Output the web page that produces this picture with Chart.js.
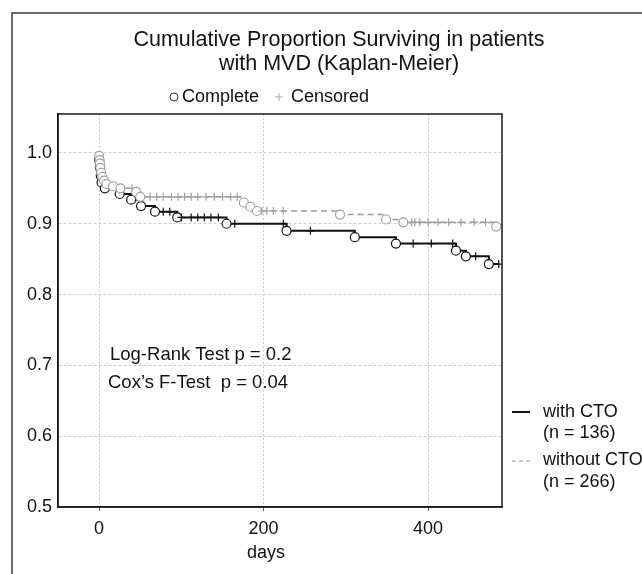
<!DOCTYPE html>
<html lang="en">
<head>
<meta charset="UTF-8">
<title>Cumulative Proportion Surviving in patients with MVD</title>
<script src="https://cdn.jsdelivr.net/npm/chart.js"></script>
<style>
    html, body { margin: 0; padding: 0; background: #fff; }
    .chart-container { position: relative; width: 642px; height: 574px; }
</style>
</head>
<body>
<div class="chart-container">
    <canvas id="kmChart" width="642" height="574"></canvas>
</div>
<script>
// with CTO (n = 136): event times / survival after each event, censored times
const ctoEventDays  = [0, 1, 2, 3, 7, 25, 39, 51, 68, 95, 155, 228, 311, 361, 434, 446, 474];
const ctoEventSurv  = [0.990, 0.979, 0.968, 0.958, 0.950, 0.942, 0.934, 0.925, 0.917, 0.909, 0.900, 0.890, 0.881, 0.872, 0.862, 0.854, 0.843];
const ctoCensorDays = [78, 86, 100, 112, 120, 128, 136, 145, 165, 224, 257, 382, 404, 430, 458, 486];

// without CTO (n = 266)
const noCtoEventDays  = [0, 0.5, 1, 1.5, 2.5, 4, 6, 9, 17, 26, 45, 50, 176, 184, 192, 293, 349, 370, 483];
const noCtoEventSurv  = [0.996, 0.990, 0.985, 0.979, 0.972, 0.966, 0.961, 0.956, 0.953, 0.950, 0.945, 0.938, 0.930, 0.924, 0.918, 0.913, 0.906, 0.902, 0.896];
const noCtoCensorDays = [40, 62, 70, 78, 88, 96, 104, 112, 120, 130, 140, 150, 160, 168, 198, 204, 212, 224, 380, 384, 390, 400, 412, 425, 440, 456, 470];

const xTicks = [0, 200, 400];
const yTicks = [0.5, 0.6, 0.7, 0.8, 0.9, 1.0];

const FONT = '"Liberation Sans", Arial, sans-serif';

// build the step curve: start at 1.0, events drop the level, censored points sit on the current level
function buildCurve(eventDays, eventSurv, censorDays) {
    const pts = [{x: 0, y: 1, kind: 'start'}];
    eventDays.forEach((d, i) => pts.push({x: d, y: eventSurv[i], kind: 'event'}));
    censorDays.forEach(d => pts.push({x: d, y: null, kind: 'censor'}));
    pts.sort((a, b) => a.x - b.x);
    let level = 1;
    pts.forEach(p => {
        if (p.kind === 'censor') p.y = level;
        else level = p.y;
    });
    return pts;
}

function curveDataset(label, pts, color, markColor, dash, width, order) {
    return {
        label: label,
        data: pts,
        stepped: true,
        borderColor: color,
        borderWidth: width,
        borderDash: dash,
        fill: false,
        order: order,
        pointStyle: c => c.raw.kind === 'censor' ? 'cross' : 'circle',
        pointRadius: c => c.raw.kind === 'start' ? 0 : (c.raw.kind === 'censor' ? 4 : 4.5),
        pointBorderWidth: 1.2,
        pointBorderColor: markColor,
        pointBackgroundColor: '#ffffff'
    };
}

const decorPlugin = {
    id: 'decor',
    afterDraw(chart) {
        const ctx = chart.ctx;
        const a = chart.chartArea;
        ctx.save();

        // outer frame (top and left)
        ctx.strokeStyle = '#6a6a6a';
        ctx.lineWidth = 2;
        ctx.beginPath();
        ctx.moveTo(12, 574);
        ctx.lineTo(12, 13);
        ctx.lineTo(642, 13);
        ctx.stroke();

        // plot box
        ctx.strokeStyle = '#1a1a1a';
        ctx.lineWidth = 1.5;
        ctx.strokeRect(a.left, a.top, a.width, a.height);

        ctx.fillStyle = '#111';
        ctx.textBaseline = 'middle';

        // title
        ctx.font = '21.5px ' + FONT;
        ctx.textAlign = 'center';
        ctx.fillText('Cumulative Proportion Surviving in patients', 339, 40);
        ctx.fillText('with MVD (Kaplan-Meier)', 339, 64);

        // x axis title
        ctx.font = '18px ' + FONT;
        ctx.fillText('days', 266, 553);

        // marker key
        ctx.textAlign = 'left';
        ctx.strokeStyle = '#333';
        ctx.lineWidth = 1;
        ctx.beginPath();
        ctx.arc(174, 97, 4, 0, Math.PI * 2);
        ctx.stroke();
        ctx.fillText('Complete', 182, 97);
        ctx.strokeStyle = '#aaa';
        ctx.beginPath();
        ctx.moveTo(275, 97); ctx.lineTo(283, 97);
        ctx.moveTo(279, 93); ctx.lineTo(279, 101);
        ctx.stroke();
        ctx.fillText('Censored', 291, 97);

        // test results
        ctx.font = '18.5px ' + FONT;
        ctx.fillText('Log-Rank Test p = 0.2', 110, 355);
        ctx.fillText('Cox\u2019s F-Test  p = 0.04', 108, 383);

        // group legend
        ctx.font = '18px ' + FONT;
        ctx.strokeStyle = '#111';
        ctx.lineWidth = 2;
        ctx.beginPath();
        ctx.moveTo(512, 412); ctx.lineTo(530, 412);
        ctx.stroke();
        ctx.strokeStyle = '#999';
        ctx.lineWidth = 1.2;
        ctx.setLineDash([4, 3]);
        ctx.beginPath();
        ctx.moveTo(512, 461); ctx.lineTo(530, 461);
        ctx.stroke();
        ctx.setLineDash([]);
        ctx.fillText('with CTO', 543, 412);
        ctx.fillText('(n = 136)', 543, 433);
        ctx.fillText('without CTO', 543, 460);
        ctx.fillText('(n = 266)', 543, 482);

        ctx.restore();
    }
};

const ctx = document.getElementById('kmChart').getContext('2d');
const kmChart = new Chart(ctx, {
    type: 'line',
    data: {
        datasets: [
            curveDataset('with CTO', buildCurve(ctoEventDays, ctoEventSurv, ctoCensorDays), '#111111', '#111111', [], 2, 1),
            curveDataset('without CTO', buildCurve(noCtoEventDays, noCtoEventSurv, noCtoCensorDays), '#9a9a9a', '#a0a0a0', [6, 4], 1.5, 0)
        ]
    },
    options: {
        responsive: false,
        animation: false,
        events: [],
        layout: { padding: { left: 10, right: 140, top: 114, bottom: 0 } },
        plugins: {
            legend: { display: false },
            tooltip: { enabled: false }
        },
        scales: {
            x: {
                type: 'linear',
                min: -50,
                max: 490,
                afterFit: s => { s.height = 67; },
                afterBuildTicks: s => { s.ticks = xTicks.map(v => ({value: v})); },
                ticks: { font: { size: 18, family: FONT }, color: '#111', padding: 7 },
                grid: { color: '#cdcdcd', tickLength: 4, tickColor: '#555' },
                border: { color: '#1a1a1a', width: 1.5, dash: [2, 2] }
            },
            y: {
                min: 0.5,
                max: 1.055,
                afterFit: s => { s.width = 48; },
                afterBuildTicks: s => { s.ticks = yTicks.map(v => ({value: v})); },
                ticks: {
                    font: { size: 18, family: FONT },
                    color: '#111',
                    padding: 6,
                    callback: v => v.toFixed(1)
                },
                grid: { color: '#cdcdcd', drawTicks: false },
                border: { color: '#1a1a1a', width: 1.5, dash: [3, 2] }
            }
        }
    },
    plugins: [decorPlugin]
});
</script>
</body>
</html>
